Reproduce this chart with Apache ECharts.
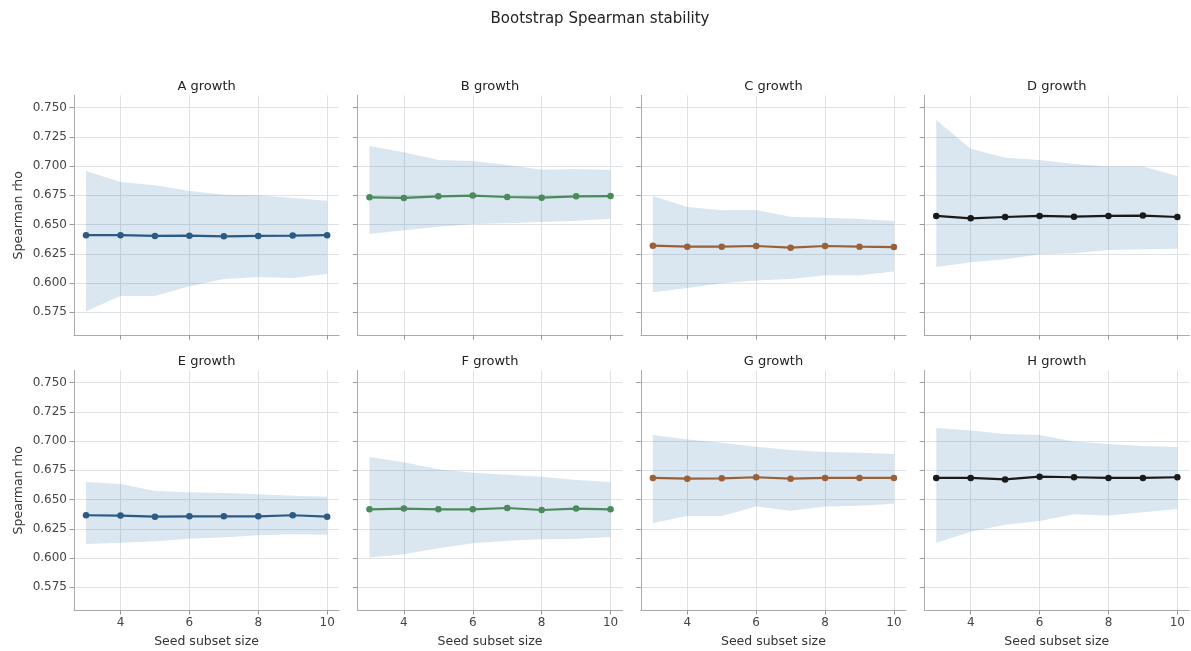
<!DOCTYPE html>
<html>
<head>
<meta charset="utf-8">
<script src="https://cdn.jsdelivr.net/npm/echarts@6/dist/echarts.min.js"></script>
<style>
html,body{margin:0;padding:0;background:#fff;}
#chart{width:1191px;height:651px;}
</style>
</head>
<body>
<div id="chart"></div>
<script>
const seedSizes = [3, 4, 5, 6, 7, 8, 9, 10];
const panelTitles = ['A growth', 'B growth', 'C growth', 'D growth', 'E growth', 'F growth', 'G growth', 'H growth'];
const yTicks = [0.575, 0.600, 0.625, 0.650, 0.675, 0.700, 0.725, 0.750];
const xTicks = [4, 6, 8, 10];

const meanA = [0.6410, 0.6410, 0.6403, 0.6405, 0.6400, 0.6403, 0.6406, 0.6410];
const upperA = [0.6958, 0.6864, 0.6836, 0.6787, 0.6756, 0.6750, 0.6728, 0.6705];
const lowerA = [0.5758, 0.5890, 0.5890, 0.5972, 0.6035, 0.6052, 0.6043, 0.6078];

const meanB = [0.6733, 0.6728, 0.6742, 0.6748, 0.6736, 0.6730, 0.6742, 0.6744];
const upperB = [0.7172, 0.7118, 0.7053, 0.7044, 0.7010, 0.6970, 0.6976, 0.6967];
const lowerB = [0.6420, 0.6451, 0.6482, 0.6505, 0.6511, 0.6522, 0.6534, 0.6551];

const meanC = [0.6320, 0.6311, 0.6311, 0.6317, 0.6303, 0.6317, 0.6311, 0.6308];
const upperC = [0.6745, 0.6651, 0.6622, 0.6625, 0.6568, 0.6559, 0.6548, 0.6531];
const lowerC = [0.5921, 0.5958, 0.5998, 0.6021, 0.6035, 0.6066, 0.6066, 0.6098];

const meanD = [0.6574, 0.6554, 0.6565, 0.6574, 0.6568, 0.6574, 0.6577, 0.6565];
const upperD = [0.7395, 0.7149, 0.7072, 0.7052, 0.7018, 0.6996, 0.6996, 0.6916];
const lowerD = [0.6138, 0.6177, 0.6203, 0.6246, 0.6254, 0.6283, 0.6289, 0.6294];

const meanE = [0.6366, 0.6363, 0.6354, 0.6357, 0.6357, 0.6357, 0.6366, 0.6354];
const upperE = [0.6651, 0.6634, 0.6574, 0.6563, 0.6557, 0.6545, 0.6534, 0.6525];
const lowerE = [0.6120, 0.6132, 0.6143, 0.6166, 0.6177, 0.6195, 0.6203, 0.6200];

const meanF = [0.6417, 0.6423, 0.6417, 0.6417, 0.6428, 0.6411, 0.6423, 0.6417];
const upperF = [0.6864, 0.6819, 0.6759, 0.6730, 0.6713, 0.6696, 0.6668, 0.6651];
const lowerF = [0.6004, 0.6032, 0.6083, 0.6126, 0.6149, 0.6160, 0.6166, 0.6180];

const meanG = [0.6685, 0.6679, 0.6682, 0.6691, 0.6679, 0.6685, 0.6685, 0.6685];
const upperG = [0.7053, 0.7015, 0.6987, 0.6953, 0.6924, 0.6907, 0.6901, 0.6890];
const lowerG = [0.6300, 0.6360, 0.6360, 0.6440, 0.6405, 0.6440, 0.6448, 0.6465];

const meanH = [0.6685, 0.6685, 0.6673, 0.6696, 0.6691, 0.6685, 0.6685, 0.6691];
const upperH = [0.7112, 0.7090, 0.7061, 0.7053, 0.6996, 0.6976, 0.6958, 0.6950];
const lowerH = [0.6132, 0.6226, 0.6286, 0.6317, 0.6374, 0.6363, 0.6391, 0.6420];

const means = [meanA, meanB, meanC, meanD, meanE, meanF, meanG, meanH];
const uppers = [upperA, upperB, upperC, upperD, upperE, upperF, upperG, upperH];
const lowers = [lowerA, lowerB, lowerC, lowerD, lowerE, lowerF, lowerG, lowerH];
const lineColors = ['#2b5a83', '#4a8a5b', '#9b6038', '#1a1a1a', '#2b5a83', '#4a8a5b', '#9b6038', '#1a1a1a'];

const FONT = 'DejaVu Sans';
const colLefts = [74, 357.4, 640.8, 924.2];
const rowTops = [95.4, 370.4];
const gridW = 265.2;
const gridH = 239.7;

const grids = [], xAxes = [], yAxes = [], series = [], titles = [];
titles.push({
  text: 'Bootstrap Spearman stability',
  left: 600, top: 11.5, textAlign: 'center', padding: 0,
  textStyle: {fontFamily: FONT, fontSize: 15, fontWeight: 'normal', color: '#222'}
});

function bandRenderItem(params, api) {
  if (params.dataIndexInside !== 0) return null;
  const n = params.dataInsideLength;
  const top = [], bottom = [];
  for (let k = 0; k < n; k++) {
    top.push(api.coord([api.value(0, k), api.value(2, k)]));
    bottom.push(api.coord([api.value(0, k), api.value(1, k)]));
  }
  const pts = top.concat(bottom.reverse());
  return {
    type: 'polygon',
    shape: {points: pts},
    style: {fill: 'rgba(70,130,180,0.2)', stroke: 'none'},
    silent: true
  };
}

for (let i = 0; i < 8; i++) {
  const r = Math.floor(i / 4), c = i % 4;
  grids.push({left: colLefts[c], top: rowTops[r], width: gridW, height: gridH, containLabel: false});
  titles.push({
    text: panelTitles[i],
    left: colLefts[c] + gridW / 2, top: rowTops[r] - 15.5, textAlign: 'center', padding: 0,
    textStyle: {fontFamily: FONT, fontSize: 13, fontWeight: 'normal', color: '#222'}
  });
  xAxes.push({
    type: 'value', gridIndex: i, min: 2.65, max: 10.35,
    name: r === 1 ? 'Seed subset size' : '',
    nameLocation: 'middle', nameGap: 25,
    nameTextStyle: {fontFamily: FONT, fontSize: 12.5, color: '#333'},
    axisLine: {show: true, onZero: false, lineStyle: {color: '#aaaaaa', width: 1}},
    axisTick: {show: true, customValues: xTicks, length: 4.5, lineStyle: {color: '#999999', width: 1}},
    axisLabel: {show: r === 1, customValues: xTicks, margin: 7, fontFamily: FONT, fontSize: 12, color: '#444'},
    splitLine: {show: true, lineStyle: {color: '#dfe2e5', width: 1}}
  });
  yAxes.push({
    type: 'value', gridIndex: i, min: 0.5555, max: 0.7605,
    name: c === 0 ? 'Spearman rho' : '',
    nameLocation: 'middle', nameGap: 49, nameRotate: 90,
    nameTextStyle: {fontFamily: FONT, fontSize: 12.5, color: '#333'},
    axisLine: {show: true, lineStyle: {color: '#aaaaaa', width: 1}},
    axisTick: {show: true, customValues: yTicks, length: 4.5, lineStyle: {color: '#999999', width: 1}},
    axisLabel: {show: c === 0, customValues: yTicks, margin: 7, fontFamily: FONT, fontSize: 12, color: '#444',
      formatter: v => v.toFixed(3)},
    splitLine: {show: true, lineStyle: {color: '#dfe2e5', width: 1}}
  });
  series.push({
    type: 'custom', xAxisIndex: i, yAxisIndex: i, silent: true,
    renderItem: bandRenderItem,
    encode: {x: 0, y: [1, 2]},
    data: seedSizes.map((x, k) => [x, lowers[i][k], uppers[i][k]]),
    z: 1
  });
  series.push({
    type: 'line', xAxisIndex: i, yAxisIndex: i, silent: true,
    data: seedSizes.map((x, k) => [x, means[i][k]]),
    symbol: 'circle', symbolSize: 6.5, showSymbol: true,
    lineStyle: {color: lineColors[i], width: 2.2},
    itemStyle: {color: lineColors[i]}, z: 3
  });
}

const chart = echarts.init(document.getElementById('chart'), null, {renderer: 'canvas'});
chart.setOption({
  animation: false,
  backgroundColor: '#ffffff',
  textStyle: {fontFamily: FONT},
  title: titles,
  grid: grids,
  xAxis: xAxes,
  yAxis: yAxes,
  series: series
});
</script>
</body>
</html>
